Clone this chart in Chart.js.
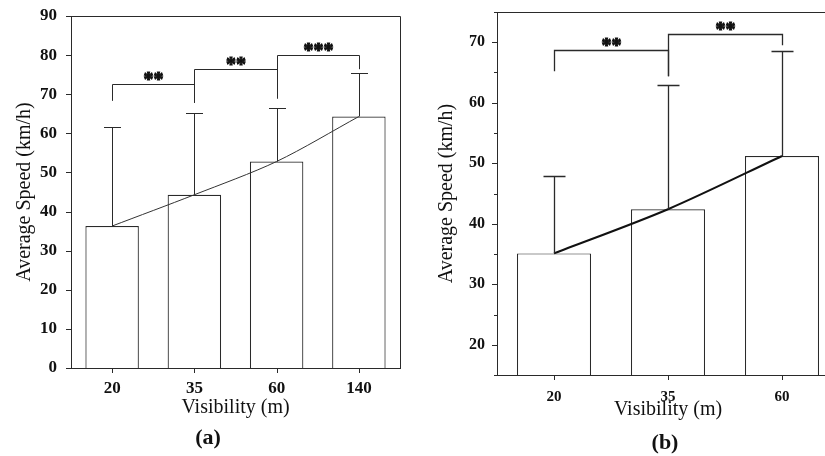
<!DOCTYPE html>
<html>
<head>
<meta charset="utf-8">
<script src="https://cdn.jsdelivr.net/npm/chart.js@4.4.1/dist/chart.umd.min.js"></script>
<style>
html, body { margin: 0; padding: 0; background: #fff; overflow: hidden; }
body { width: 825px; height: 456px; position: relative; }
#wrapA { position: absolute; left: 0; top: 0; }
#wrapB { position: absolute; left: 420px; top: 0; }
.panel { position: absolute; font: bold 22px "Liberation Serif", serif; color: #111; transform: translate(-50%, -50%); }
</style>
</head>
<body>
<div id="wrapA"><canvas id="chartA" width="420" height="456"></canvas></div>
<div id="wrapB"><canvas id="chartB" width="440" height="456"></canvas></div>
<div class="panel" style="left:208px; top:437px;">(a)</div>
<div class="panel" style="left:665px; top:442px;">(b)</div>
<script>
// Panel (a)
var labelsA = ['20', '35', '60', '140'];
var meanA = [36.3, 44.3, 52.8, 64.3];
var upperA = [61.5, 65.1, 66.6, 75.5];
// [from, to, level, left leg end, right leg end, stars]
var bracketsA = [
    [0, 1, 72.7, 68.3, 67.8, '**'],
    [1, 2, 76.4, 67.8, 68.9, '**'],
    [2, 3, 80.1, 68.9, 76.4, '***']
];

// Panel (b)
var labelsB = ['20', '35', '60'];
var meanB = [35.1, 42.4, 51.2];
var upperB = [47.9, 63.0, 68.5];
var bracketsB = [
    [0, 1, 68.7, 65.2, 64.4, '**'],
    [1, 2, 71.4, 64.4, 69.5, '**']
];

var LINE = '#2a2a2a';
var TEXT = '#111';
var SERIF = '"Liberation Serif", "Times New Roman", serif';

/**
 * Draws error whiskers, brackets, frame and tick marks.
 */
var decor = {
    id: 'decor',
    afterDatasetsDraw: function (chart, args, o) {
        var ctx = chart.ctx, a = chart.chartArea;
        var x = chart.scales.x, y = chart.scales.y;
        ctx.save();
        ctx.strokeStyle = LINE;
        ctx.lineWidth = o.lineWidth;

        // whiskers
        for (var i = 0; i < o.means.length; i++) {
            var px = Math.round(x.getPixelForValue(i)) + 0.5;
            var y0 = y.getPixelForValue(o.means[i]);
            var y1 = Math.round(y.getPixelForValue(o.upper[i])) + 0.5;
            ctx.beginPath();
            ctx.moveTo(px, y0);
            ctx.lineTo(px, y1);
            ctx.moveTo(px - o.cap / 2, y1);
            ctx.lineTo(px + o.cap / 2, y1);
            ctx.stroke();
        }

        // significance brackets
        ctx.fillStyle = TEXT;
        ctx.font = 'bold 20px ' + SERIF;
        ctx.textAlign = 'center';
        ctx.textBaseline = 'alphabetic';
        o.brackets.forEach(function (b) {
            var xl = Math.round(x.getPixelForValue(b[0])) + 0.5;
            var xr = Math.round(x.getPixelForValue(b[1])) + 0.5;
            var yl = Math.round(y.getPixelForValue(b[2])) + 0.5;
            ctx.strokeStyle = LINE;
            ctx.lineWidth = o.lineWidth;
            ctx.beginPath();
            ctx.moveTo(xl, y.getPixelForValue(b[3]));
            ctx.lineTo(xl, yl);
            ctx.lineTo(xr, yl);
            ctx.lineTo(xr, y.getPixelForValue(b[4]));
            ctx.stroke();
            // heavier asterisks
            ctx.strokeStyle = TEXT;
            ctx.lineWidth = 1;
            ctx.strokeText(b[5], (xl + xr) / 2, yl + 1);
            ctx.fillText(b[5], (xl + xr) / 2, yl + 1);
        });

        // frame (top / right)
        ctx.strokeStyle = LINE;
        ctx.lineWidth = 1;
        ctx.beginPath();
        ctx.moveTo(a.left, Math.round(a.top) + 0.5);
        ctx.lineTo(Math.round(a.right) + 0.5, Math.round(a.top) + 0.5);
        ctx.lineTo(Math.round(a.right) + 0.5, a.bottom);
        ctx.stroke();

        // tick marks
        ctx.beginPath();
        y.ticks.forEach(function (t) {
            var py = Math.round(y.getPixelForValue(t.value)) + 0.5;
            var len = t.value % 10 === 0 ? 5 : 3;
            ctx.moveTo(a.left - len, py);
            ctx.lineTo(a.left, py);
        });
        for (var j = 0; j < o.means.length; j++) {
            var tx = Math.round(x.getPixelForValue(j)) + 0.5;
            ctx.moveTo(tx, a.bottom);
            ctx.lineTo(tx, a.bottom + 5);
        }
        ctx.stroke();
        ctx.restore();
    }
};

function makeChart(id, labels, means, upper, brackets, s) {
    return new Chart(document.getElementById(id), {
        type: 'bar',
        data: {
            labels: labels,
            datasets: [{
                type: 'line',
                data: means,
                borderColor: s.trendColor,
                borderWidth: s.trendWidth,
                pointRadius: 0,
                tension: 0.3,
                order: 0
            }, {
                data: means,
                backgroundColor: '#fff',
                borderColor: LINE,
                borderWidth: 1.2,
                barPercentage: 0.65,
                categoryPercentage: 1,
                order: 1
            }]
        },
        options: {
            responsive: false,
            devicePixelRatio: 1,
            animation: false,
            events: [],
            layout: { padding: { left: 0, right: s.padRight, top: s.padTop, bottom: 0 } },
            plugins: {
                legend: { display: false },
                tooltip: { enabled: false },
                decor: { means: means, upper: upper, brackets: brackets, cap: s.cap, lineWidth: s.whiskerWidth }
            },
            scales: {
                x: {
                    grid: { display: false, drawTicks: false },
                    border: { color: LINE, width: 1 },
                    ticks: { color: TEXT, padding: s.xPad, font: { family: SERIF, size: s.xTickSize, weight: 'bold' } },
                    title: {
                        display: true, text: 'Visibility (m)', color: TEXT,
                        font: { family: SERIF, size: 20, lineHeight: 1.2 },
                        padding: { top: 0, bottom: s.xTitlePad }
                    },
                    afterFit: function (sc) {
                        sc.height = s.xHeight;
                        sc.paddingLeft = 0;
                        sc.paddingRight = 0;
                    }
                },
                y: {
                    min: s.min, max: s.max,
                    grid: { display: false, drawTicks: false },
                    border: { color: LINE, width: 1 },
                    ticks: {
                        stepSize: 5, color: TEXT, padding: s.yPad,
                        font: { family: SERIF, size: s.yTickSize, weight: 'bold' },
                        callback: function (v) { return v % 10 === 0 ? v : ''; }
                    },
                    title: {
                        display: true, text: 'Average Speed (km/h)', color: TEXT,
                        font: { family: SERIF, size: 20, lineHeight: 1.2 },
                        padding: { top: s.yTitlePad, bottom: 0 }
                    },
                    afterFit: function (sc) {
                        sc.width = s.yWidth;
                        sc.paddingTop = 0;
                        sc.paddingBottom = 0;
                    }
                }
            }
        },
        plugins: [decor]
    });
}

makeChart('chartA', labelsA, meanA, upperA, bracketsA, {
    min: 0, max: 90, padRight: 20, padTop: 16, xHeight: 88, yWidth: 71,
    xTickSize: 17, yTickSize: 17, xPad: 10, yPad: 14, xTitlePad: 36, yTitlePad: 13,
    cap: 17, whiskerWidth: 1, trendColor: '#333', trendWidth: 1
});

makeChart('chartB', labelsB, meanB, upperB, bracketsB, {
    min: 15, max: 75, padRight: 21, padTop: 12, xHeight: 81, yWidth: 77,
    xTickSize: 15, yTickSize: 16, xPad: 13, yPad: 12, xTitlePad: 34, yTitlePad: 15,
    cap: 22, whiskerWidth: 1.3, trendColor: '#111', trendWidth: 2
});
</script>
</body>
</html>
